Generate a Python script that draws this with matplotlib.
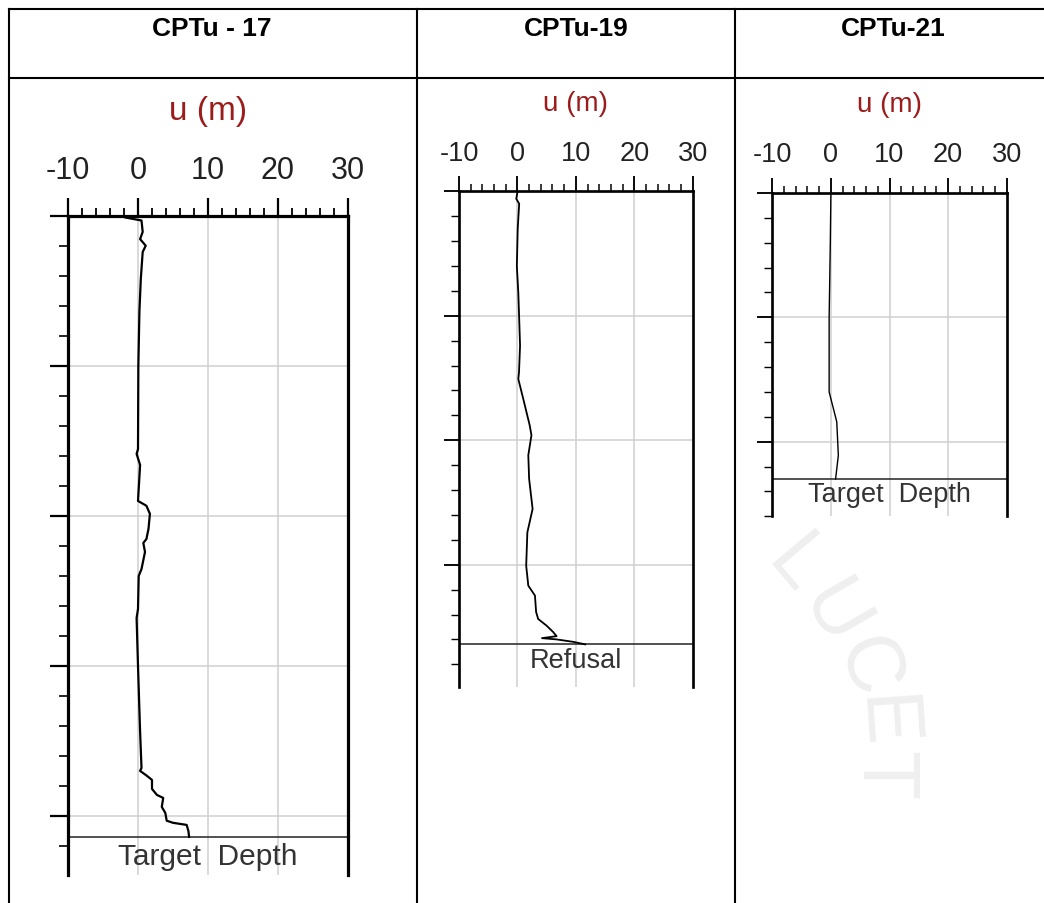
import numpy as np
import matplotlib
matplotlib.use("Agg")
import matplotlib.pyplot as plt
from matplotlib.lines import Line2D
from matplotlib.patches import Rectangle
from matplotlib.ticker import MultipleLocator

plt.rcParams['font.family'] = ['Liberation Sans', 'DejaVu Sans']

# ---- data (depth in m, u in m) ----
titles = ['CPTu - 17', 'CPTu-19', 'CPTu-21']
end_labels = ['Target  Depth', 'Refusal', 'Target  Depth']
end_depth = [20.7, 18.2, 11.5]

cptu17_depth = [0.05, 0.15, 0.53, 0.77, 0.99, 1.2, 2.1, 3.2, 5.0, 7.77, 7.93, 8.3,
                9.5, 9.66, 9.93, 10.43, 10.77, 10.9, 11.2, 11.77, 12.0, 13.1, 13.4,
                15.0, 17.2, 18.4, 18.5, 18.65, 18.8, 19.1, 19.3, 19.4, 19.7, 19.9,
                20.16, 20.23, 20.3, 20.5, 20.7]
cptu17_u = [-1.8, 0.5, 0.67, 0.3, 1.1, 0.67, 0.4, 0.2, 0.05, 0.0, -0.2, 0.3,
            0.0, 1.2, 1.7, 1.5, 1.2, 0.76, 1.0, 0.5, 0.1, 0.0, -0.2,
            0.0, 0.3, 0.5, 0.3, 1.2, 2.0, 2.0, 2.7, 3.6, 3.4, 3.9,
            4.1, 5.0, 6.95, 7.2, 7.3]

cptu19_depth = [0.04, 0.3, 0.5, 1.5, 3.0, 4.07, 5.1, 6.2, 7.27, 7.54, 8.34, 9.4,
                9.8, 10.6, 11.55, 12.76, 13.7, 15.04, 15.84, 16.24, 16.9, 17.18,
                17.45, 17.7, 17.87, 17.95, 18.0, 18.1, 18.2]
cptu19_u = [0.0, -0.2, 0.3, 0.05, -0.1, 0.15, 0.3, 0.45, 0.27, 0.15, 1.0, 2.1,
            2.4, 1.86, 2.0, 2.6, 1.7, 1.5, 1.86, 3.0, 3.2, 3.55,
            5.0, 6.1, 6.7, 4.2, 6.7, 9.6, 11.6]

cptu21_depth = [0.0, 2.0, 5.0, 8.0, 9.2, 10.55, 11.5]
cptu21_u = [0.0, -0.1, -0.3, -0.3, 1.0, 1.27, 0.8]

depths = [cptu17_depth, cptu19_depth, cptu21_depth]
us = [cptu17_u, cptu19_u, cptu21_u]

# ---- layout in pixels of the 1044x904 picture ----
W, H = 1044, 904
# axes box: x0, x1, ytop, ybottom(crop), depth at crop
axes_px = [(68, 348, 217, 876, 21.97),
           (459, 692.7, 192.3, 687.7, 19.9),
           (772.3, 1006.7, 194, 517.3, 13.0)]
# white image area behind each plot
img_px = [(10, 392, 80, 876), (431, 710, 80, 688), (747, 1010, 80, 517)]
scale = [1.0, 0.84, 0.84]
tick_fs = [22, 19.5, 19.5]
ulab_fs = [24, 20, 20]
ulab_pad = [26, 21, 22]
end_fs = [21.5, 19.5, 19.5]
label_depth = [21.33, 18.82, 12.1]
line_w = [1.6, 1.3, 1.0]


def rect(x0, x1, y0, y1):
    return [x0 / W, 1 - y1 / H, (x1 - x0) / W, (y1 - y0) / H]


fig = plt.figure(figsize=(W / 100, H / 100), dpi=100)
fig.patch.set_facecolor('white')

# faint watermark letters
for ch, (px, py, rot) in zip('LUCET', [(795, 567, -50), (832, 615, -60), (866, 668, -72),
                                        (882, 722, -86), (882, 776, -90)]):
    fig.text(px / W, 1 - py / H, ch, fontsize=58, color='#efefef', rotation=rot,
             ha='center', va='center', zorder=-3)

for (x0, x1, y0, y1) in img_px:
    fig.patches.append(Rectangle((x0 / W, 1 - y1 / H), (x1 - x0) / W, (y1 - y0) / H,
                                 transform=fig.transFigure, facecolor='white',
                                 edgecolor='none', zorder=-1))

for i in range(3):
    x0, x1, yt, yb, dmax = axes_px[i]
    s = scale[i]
    ax = fig.add_axes(rect(x0, x1, yt, yb))
    ax.set_facecolor('white')
    ax.plot(us[i], depths[i], color='black', lw=line_w[i], zorder=3)
    ax.axhline(end_depth[i], color='#333333', lw=1.2, zorder=2)
    ax.text(10, label_depth[i], end_labels[i], ha='center', va='center',
            fontsize=end_fs[i], color='#333333')

    ax.set_xlim(-10, 30)
    ax.set_ylim(dmax, 0)
    ax.xaxis.tick_top()
    ax.xaxis.set_label_position('top')
    ax.xaxis.set_minor_locator(MultipleLocator(2))
    ax.yaxis.set_major_locator(MultipleLocator(5))
    ax.yaxis.set_minor_locator(MultipleLocator(1))
    ax.set_xticks([-10, 0, 10, 20, 30])
    ax.set_xticklabels(['-10', '0', '10', '20', '30'])
    ax.tick_params(axis='x', which='major', direction='out', length=13 * s, width=1.6 * s,
                   pad=9 * s, labelsize=tick_fs[i], labelcolor='#222222')
    ax.tick_params(axis='x', which='minor', direction='out', length=6 * s, width=1.3 * s)
    ax.tick_params(axis='y', which='major', direction='out', length=13 * s, width=1.6 * s,
                   labelleft=False)
    ax.tick_params(axis='y', which='minor', direction='out', length=6.5 * s, width=1.2 * s)
    ax.set_xlabel('u (m)', color='#9c1c1c', fontsize=ulab_fs[i], labelpad=ulab_pad[i])

    for sp in ['left', 'right', 'top']:
        ax.spines[sp].set_linewidth(2.3 * s)
    ax.spines['bottom'].set_visible(False)

    for gx in [0, 10, 20]:
        ax.axvline(gx, color='#cfcfcf', lw=1.1, zorder=1)
    for gy in np.arange(5, dmax, 5):
        ax.axhline(gy, color='#cfcfcf', lw=1.1, zorder=1)

# ---- the table around the plots ----
tbl = dict(color='black', lw=1.5, transform=fig.transFigure, zorder=5)
fig.add_artist(Line2D([9 / W, 1], [1 - 10 / H] * 2, **tbl))
fig.add_artist(Line2D([9 / W, 1], [1 - 79 / H] * 2, **tbl))
for xv in [9, 417, 735]:
    fig.add_artist(Line2D([xv / W] * 2, [0, 1 - 10 / H], **tbl))

for xc, t in zip([212, 576, 893], titles):
    fig.text(xc / W, 1 - 29 / H, t, ha='center', va='center', fontsize=19,
             fontweight='bold', color='black')

fig.savefig('out.png', dpi=100)
